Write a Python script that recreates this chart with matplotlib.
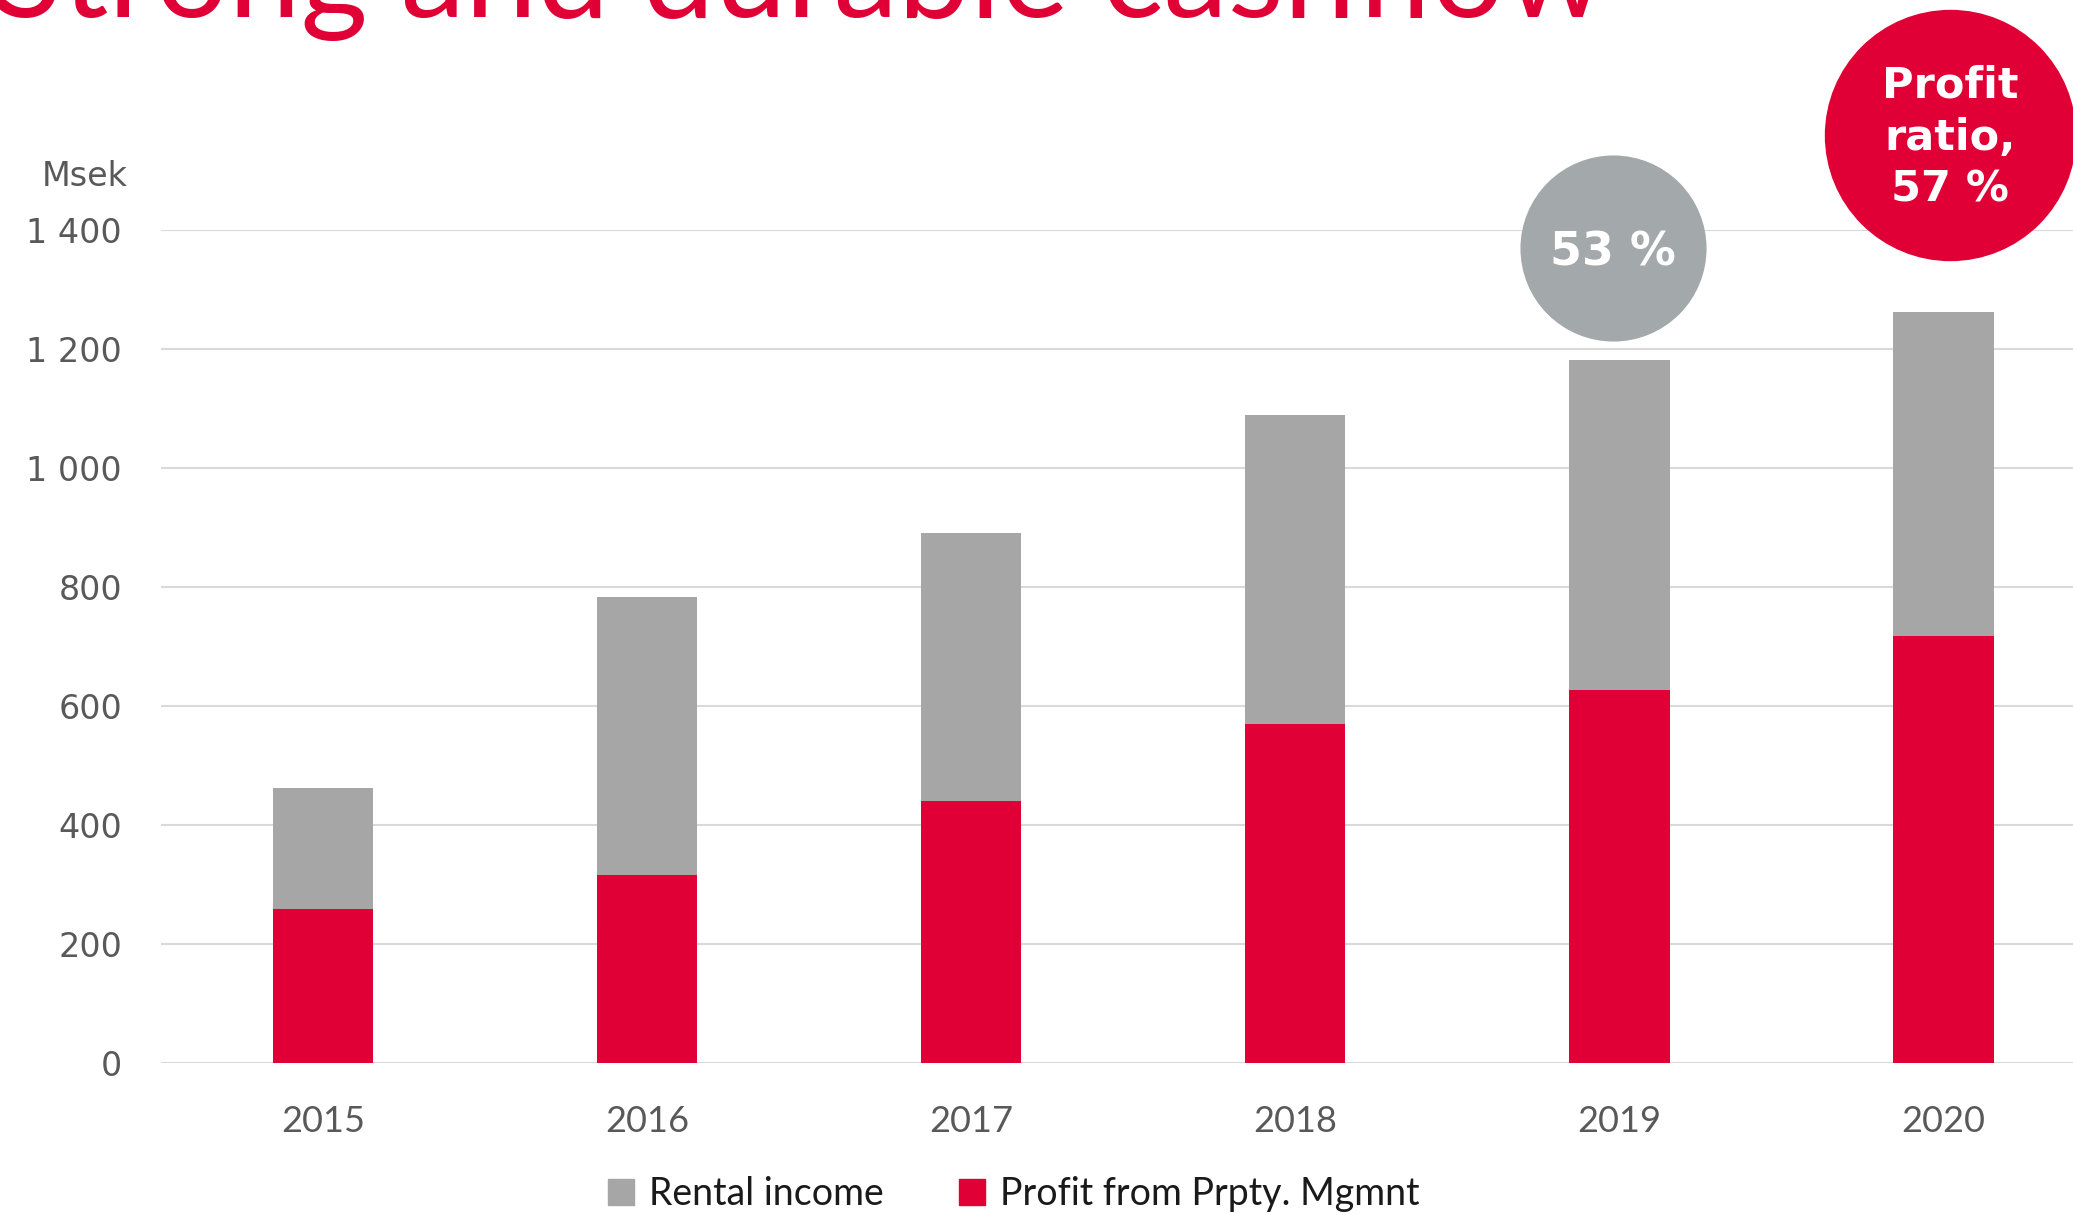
import matplotlib.pyplot as plt
from matplotlib.patches import Patch
import numpy as np

# values (Msek)
years = ["2015", "2016", "2017", "2018", "2019", "2020"]
rental_income = [462, 784, 891, 1089, 1182, 1262]
profit_mgmt = [258, 316, 440, 569, 627, 718]
y_ticks = [0, 200, 400, 600, 800, 1000, 1200, 1400]
y_tick_labels = ["0", "200", "400", "600", "800", "1 000", "1 200", "1 400"]

red = "#e10035"
grey_bar = "#a6a6a6"
grey_circle = "#a3a8aa"
label_col = "#595959"

W, H = 2073, 1215
fig = plt.figure(figsize=(W / 100, H / 100), dpi=100)
ax = fig.add_axes([161 / W, 1 - 1063 / H, 1 - 161 / W, (1063 - 230) / H])

x = np.arange(len(years))
bw = 0.31
# profit bar drawn on top of the full rental income bar
ax.bar(x, rental_income, width=bw, color=grey_bar, zorder=2)
ax.bar(x, profit_mgmt, width=bw, color=red, zorder=3)

ax.set_xlim(-0.5, 5.4)
ax.set_ylim(0, 1400)
ax.set_yticks(y_ticks)
ax.set_yticklabels(y_tick_labels)
ax.set_xticks(x)
ax.set_xticklabels(years)
ax.tick_params(axis="y", length=0, pad=28, labelsize=24, labelcolor=label_col)
ax.tick_params(axis="x", length=0, pad=30, labelsize=26, labelcolor=label_col)
for lab in ax.get_xticklabels():
    lab.set_family("Lato")
for s in ax.spines.values():
    s.set_visible(False)
ax.grid(axis="y", color="#d9d9d9", linewidth=1.5, zorder=0)
ax.set_axisbelow(True)

fig.text(128 / W, 1 - 176 / H, "Msek", ha="right", va="center",
         fontsize=24, color=label_col)

# ratio bubbles
ratio = [p / r for p, r in zip(profit_mgmt, rental_income)]
ax.scatter([3.98], [1369], s=134 ** 2, color=grey_circle, clip_on=False, zorder=5, linewidths=0)
ax.text(3.98, 1362, f"{round(ratio[4] * 100)} %", ha="center", va="center",
        fontsize=33, fontweight="bold", color="white", zorder=6, clip_on=False)
ax.scatter([5.02], [1560], s=181 ** 2, color=red, clip_on=False, zorder=5, linewidths=0)
ax.text(5.02, 1555, f"Profit\nratio,\n{round(ratio[5] * 100)} %", ha="center", va="center",
        fontsize=31, fontweight="bold", color="white", zorder=6, clip_on=False,
        linespacing=1.3)

# title, cut off at the top edge like the slide
fig.text(-8 / W, 1 - 17 / H, "Strong and durable cashflow", ha="left", va="baseline",
         fontsize=93, color=red, family="Lato")

handles = [Patch(color=grey_bar, label="Rental income"),
           Patch(color=red, label="Profit from Prpty. Mgmnt")]
fig.legend(handles=handles, loc="center", bbox_to_anchor=(1014 / W, 1 - 1194 / H),
           ncol=2, frameon=False, prop={"family": "Lato", "size": 27},
           handlelength=0.7, handleheight=0.7, handletextpad=0.4, columnspacing=2.0,
           labelcolor="#1a1a1a")

fig.savefig("out.png", dpi=100)
